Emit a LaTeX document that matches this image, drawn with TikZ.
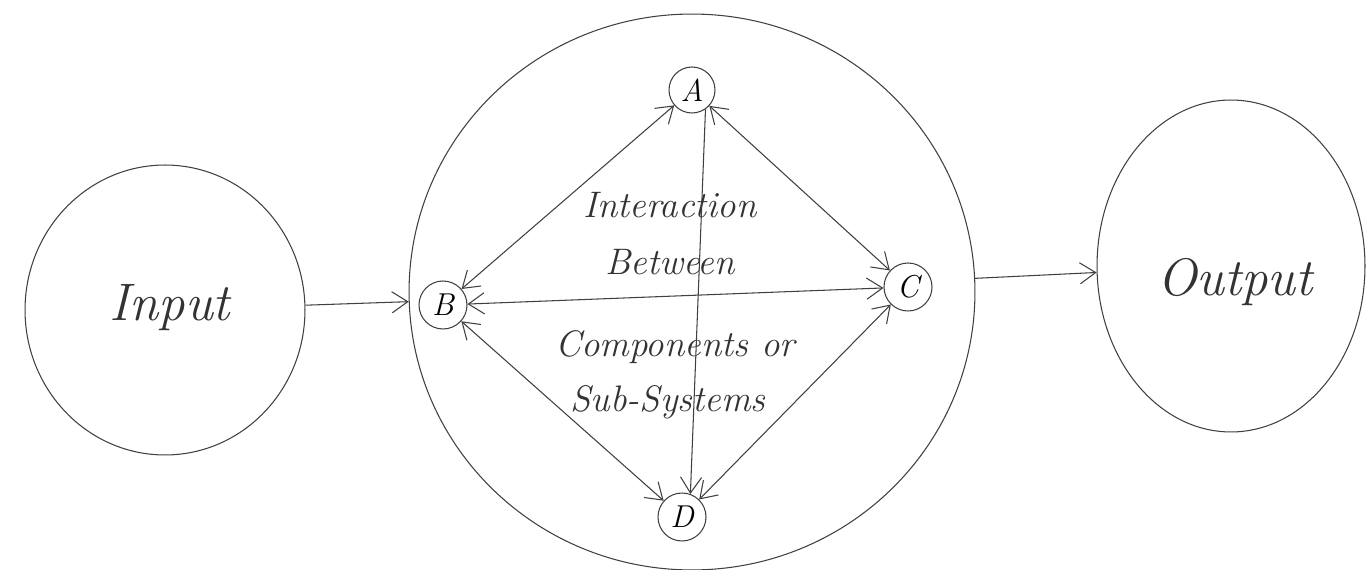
\documentclass[tikz,border=0pt]{standalone}
\usetikzlibrary{arrows.meta,shapes.geometric}
\begin{document}
\begin{tikzpicture}[x=0.02cm,y=-0.02cm,
  pen/.style={draw=black!75,line width=0.6pt},
  bigell/.style={pen,ellipse,inner sep=0pt},
  comp/.style={pen,circle,inner sep=0pt,minimum size=0.96cm,font=\itshape\fontsize{18}{20}\selectfont},
  lbl/.style={font=\itshape\fontsize{21}{23}\selectfont,text=black!80},
  biglbl/.style={font=\itshape\fontsize{30}{32}\selectfont,text=black!80},
  arr/.style={pen,-{Straight Barb[length=9pt,width=12pt]}},
  darr/.style={pen,{Straight Barb[length=9pt,width=12pt]}-{Straight Barb[length=9pt,width=12pt]}}]
\useasboundingbox[fill=white] (0,0) rectangle (1369,570);
\node[bigell,minimum width=5.6cm,minimum height=5.8cm] (in) at (165,310) {};
\node[bigell,minimum width=11.32cm,minimum height=11.12cm] (sys) at (692,292) {};
\node[bigell,minimum width=5.36cm,minimum height=6.64cm] (out) at (1231,266) {};
\node[biglbl] (intxt) at (170,308) {Input};
\node[biglbl] (outtxt) at (1235,282) {Output};
\node[comp,minimum size=0.92cm] (A) at (692,90) {A};
\node[comp] (B) at (443,305) {B};
\node[comp] (C) at (908,287) {C};
\node[comp] (D) at (682,517) {D};
\node[lbl] (t1) at (670,205) {Interaction};
\node[lbl] (t2) at (670,262) {Between};
\node[lbl] (t3) at (675,347) {Components or};
\node[lbl] (t4) at (668,402) {Sub-Systems};
\draw[arr] (in) -- (sys);
\draw[arr] (sys) -- (out);
\draw[darr] (A) -- (B);
\draw[darr] (A) -- (C);
\draw[darr] (B) -- (C);
\draw[arr] (A.-55) -- (D.70);
\draw[darr] (B) -- (D);
\draw[darr] (C) -- (D);
\end{tikzpicture}
\end{document}
